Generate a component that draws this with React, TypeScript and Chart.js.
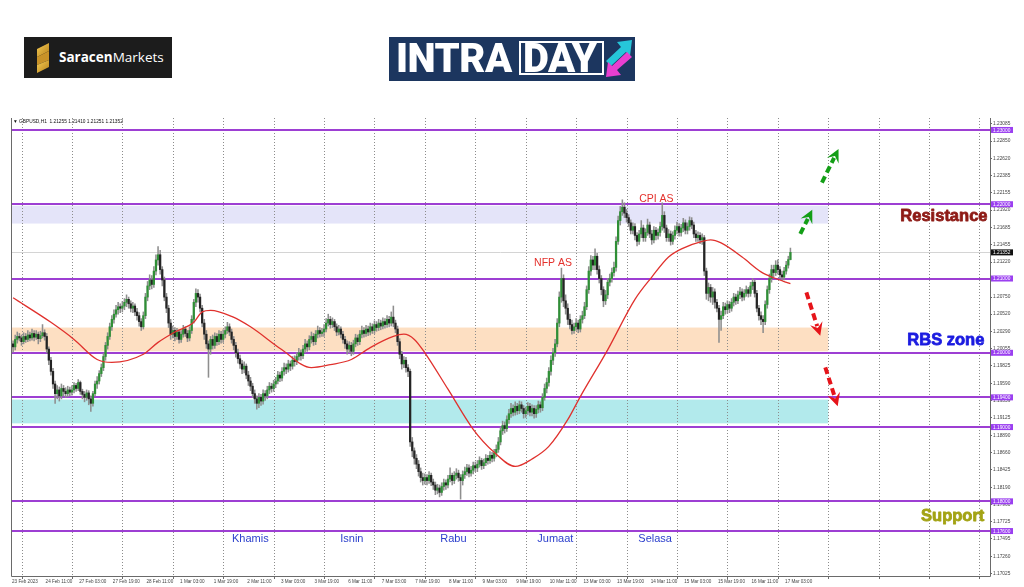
import React, { useEffect, useRef } from "react";
import { Chart, registerables } from "chart.js";
Chart.register(...registerables);

// ---- H1 candles, 23 Feb 2023 19:00 .. 17 Mar 2023 06:00 (one line per trading day) ----
const firstOpen = 1.2005;
const closes = [
  1.2012, 1.2008, 1.2018, 1.2022, 1.2020,
  1.2015, 1.2022, 1.2018, 1.2024, 1.2020, 1.2026, 1.2021, 1.2025, 1.2019, 1.2023, 1.2027, 1.2022, 1.2005, 1.1990, 1.1975, 1.1958, 1.1945, 1.1950, 1.1942, 1.1952, 1.1948, 1.1945, 1.1950, 1.1947,
  1.1950, 1.1956, 1.1952, 1.1960, 1.1948, 1.1944, 1.1940, 1.1946, 1.1938, 1.1932, 1.1945, 1.1958, 1.1962, 1.1972, 1.1980, 1.1995, 1.2010, 1.2022, 1.2035, 1.2045, 1.2052, 1.2058, 1.2062, 1.2060,
  1.2063, 1.2068, 1.2072, 1.2066, 1.2060, 1.2063, 1.2055, 1.2050, 1.2042, 1.2035, 1.2050, 1.2075, 1.2090, 1.2098, 1.2092, 1.2110, 1.2125, 1.2132, 1.2112, 1.2098, 1.2075, 1.2060, 1.2040, 1.2025,
  1.2030, 1.2022, 1.2028, 1.2018, 1.2025, 1.2032, 1.2026, 1.2020, 1.2030, 1.2045, 1.2068, 1.2080, 1.2075, 1.2060, 1.2040, 1.2025, 1.2012, 1.2005, 1.2018, 1.2010, 1.2022, 1.2015, 1.2025, 1.2018,
  1.2025, 1.2030, 1.2035, 1.2028, 1.2018, 1.2010, 1.2000, 1.1992, 1.1985, 1.1978, 1.1982, 1.1970, 1.1962, 1.1955, 1.1945, 1.1938, 1.1932, 1.1940, 1.1935, 1.1945, 1.1942, 1.1950, 1.1955, 1.1952,
  1.1958, 1.1962, 1.1970, 1.1966, 1.1975, 1.1980, 1.1978, 1.1985, 1.1982, 1.1990, 1.1988, 1.1995, 1.2000, 1.1996, 1.2005, 1.2012, 1.2008, 1.2018, 1.2022, 1.2015, 1.2025, 1.2030, 1.2026, 1.2028,
  1.2032, 1.2040, 1.2045, 1.2038, 1.2042, 1.2035, 1.2028, 1.2032, 1.2025, 1.2018, 1.2012, 1.2005, 1.2010, 1.2002, 1.2012, 1.2020, 1.2015, 1.2025, 1.2030, 1.2026, 1.2032, 1.2028, 1.2035, 1.2030,
  1.2038, 1.2034, 1.2040, 1.2036, 1.2042, 1.2038, 1.2045, 1.2040, 1.2048, 1.2040, 1.2032, 1.2015, 1.1998, 1.1985, 1.1990, 1.1980, 1.1975, 1.1880, 1.1868, 1.1858, 1.1850, 1.1840, 1.1832, 1.1828,
  1.1832, 1.1828, 1.1835, 1.1826, 1.1822, 1.1815, 1.1818, 1.1812, 1.1820, 1.1825, 1.1822, 1.1830, 1.1835, 1.1828, 1.1835, 1.1838, 1.1832, 1.1828, 1.1836, 1.1840, 1.1845, 1.1838, 1.1842, 1.1848,
  1.1845, 1.1850, 1.1855, 1.1848, 1.1852, 1.1858, 1.1855, 1.1862, 1.1858, 1.1865, 1.1870, 1.1880, 1.1895, 1.1902, 1.1898, 1.1910, 1.1918, 1.1925, 1.1920, 1.1928, 1.1922, 1.1930, 1.1925, 1.1918,
  1.1922, 1.1928, 1.1920, 1.1925, 1.1918, 1.1924, 1.1930, 1.1926, 1.1940, 1.1952, 1.1960, 1.1975, 1.1990, 1.2000, 1.2012, 1.2040, 1.2075, 1.2100, 1.2070, 1.2060, 1.2045, 1.2038, 1.2030, 1.2035,
  1.2040, 1.2032, 1.2045, 1.2050, 1.2062, 1.2085, 1.2110, 1.2125, 1.2118, 1.2130, 1.2112, 1.2100, 1.2085, 1.2070, 1.2078, 1.2095, 1.2100, 1.2108, 1.2115, 1.2150, 1.2178, 1.2190, 1.2196, 1.2188,
  1.2182, 1.2175, 1.2165, 1.2170, 1.2158, 1.2150, 1.2160, 1.2168, 1.2155, 1.2162, 1.2172, 1.2160, 1.2152, 1.2165, 1.2158, 1.2162, 1.2170, 1.2185, 1.2168, 1.2155, 1.2160, 1.2150, 1.2158, 1.2165,
  1.2170, 1.2162, 1.2168, 1.2175, 1.2165, 1.2170, 1.2178, 1.2172, 1.2160, 1.2155, 1.2158, 1.2152, 1.2155, 1.2110, 1.2080, 1.2088, 1.2075, 1.2082, 1.2068, 1.2060, 1.2045, 1.2050, 1.2062, 1.2058,
  1.2065, 1.2060, 1.2068, 1.2075, 1.2070, 1.2078, 1.2082, 1.2075, 1.2080, 1.2085, 1.2080, 1.2090, 1.2095, 1.2080, 1.2060, 1.2050, 1.2045, 1.2042, 1.2065, 1.2085, 1.2100, 1.2112, 1.2108, 1.2118,
  1.2112, 1.2105, 1.2102, 1.2110, 1.2118, 1.21255, 1.21352,
];
const highs = [
  1.2018, 1.2016, 1.2024, 1.2028, 1.2026,
  1.2024, 1.2027, 1.2026, 1.2030, 1.2028, 1.2032, 1.2030, 1.2030, 1.2028, 1.2029, 1.2038, 1.2031, 1.2026, 1.2008, 1.1994, 1.1979, 1.1962, 1.1956, 1.1954, 1.1958, 1.1956, 1.1953, 1.1955, 1.1954,
  1.1956, 1.1960, 1.1959, 1.1964, 1.1962, 1.1951, 1.1948, 1.1950, 1.1949, 1.1942, 1.1948, 1.1962, 1.1968, 1.1976, 1.1985, 1.1999, 1.2014, 1.2027, 1.2040, 1.2050, 1.2058, 1.2064, 1.2068, 1.2066,
  1.2069, 1.2073, 1.2078, 1.2075, 1.2070, 1.2068, 1.2066, 1.2060, 1.2054, 1.2046, 1.2055, 1.2080, 1.2096, 1.2105, 1.2104, 1.2116, 1.2132, 1.2143, 1.2138, 1.2116, 1.2102, 1.2080, 1.2064, 1.2045,
  1.2036, 1.2034, 1.2033, 1.2031, 1.2030, 1.2037, 1.2035, 1.2030, 1.2035, 1.2050, 1.2072, 1.2086, 1.2085, 1.2079, 1.2064, 1.2045, 1.2030, 1.2016, 1.2022, 1.2024, 1.2027, 1.2026, 1.2030, 1.2029,
  1.2031, 1.2035, 1.2041, 1.2039, 1.2032, 1.2022, 1.2014, 1.2005, 1.1997, 1.1990, 1.1988, 1.1985, 1.1975, 1.1967, 1.1959, 1.1950, 1.1942, 1.1945, 1.1944, 1.1950, 1.1949, 1.1955, 1.1960, 1.1959,
  1.1963, 1.1967, 1.1975, 1.1974, 1.1980, 1.1986, 1.1985, 1.1990, 1.1989, 1.1995, 1.1996, 1.2000, 1.2006, 1.2004, 1.2010, 1.2018, 1.2016, 1.2023, 1.2028, 1.2026, 1.2030, 1.2036, 1.2034, 1.2033,
  1.2038, 1.2046, 1.2052, 1.2049, 1.2047, 1.2045, 1.2039, 1.2037, 1.2035, 1.2029, 1.2022, 1.2016, 1.2015, 1.2014, 1.2017, 1.2025, 1.2024, 1.2030, 1.2036, 1.2034, 1.2037, 1.2036, 1.2040, 1.2039,
  1.2043, 1.2042, 1.2045, 1.2044, 1.2047, 1.2046, 1.2050, 1.2049, 1.2055, 1.2063, 1.2044, 1.2036, 1.2019, 1.2002, 1.1995, 1.1994, 1.1984, 1.1978, 1.1886, 1.1872, 1.1863, 1.1855, 1.1845, 1.1838,
  1.1837, 1.1836, 1.1840, 1.1838, 1.1830, 1.1826, 1.1823, 1.1822, 1.1825, 1.1830, 1.1829, 1.1835, 1.1845, 1.1838, 1.1840, 1.1844, 1.1842, 1.1836, 1.1841, 1.1846, 1.1850, 1.1849, 1.1847, 1.1853,
  1.1853, 1.1855, 1.1860, 1.1858, 1.1857, 1.1863, 1.1862, 1.1867, 1.1866, 1.1870, 1.1876, 1.1886, 1.1900, 1.1908, 1.1907, 1.1915, 1.1924, 1.1932, 1.1930, 1.1934, 1.1932, 1.1935, 1.1934, 1.1929,
  1.1927, 1.1933, 1.1932, 1.1930, 1.1929, 1.1929, 1.1935, 1.1934, 1.1945, 1.1958, 1.1966, 1.1980, 1.1996, 1.2006, 1.2018, 1.2046, 1.2082, 1.2114, 1.2105, 1.2078, 1.2066, 1.2052, 1.2044, 1.2040,
  1.2046, 1.2044, 1.2050, 1.2056, 1.2068, 1.2090, 1.2116, 1.2131, 1.2130, 1.2140, 1.2134, 1.2117, 1.2104, 1.2089, 1.2084, 1.2100, 1.2106, 1.2114, 1.2122, 1.2156, 1.2184, 1.2197, 1.2206, 1.2202,
  1.2193, 1.2186, 1.2179, 1.2175, 1.2174, 1.2162, 1.2165, 1.2178, 1.2172, 1.2167, 1.2180, 1.2176, 1.2165, 1.2170, 1.2169, 1.2167, 1.2176, 1.2202, 1.2190, 1.2172, 1.2166, 1.2164, 1.2163, 1.2171,
  1.2176, 1.2174, 1.2173, 1.2181, 1.2179, 1.2175, 1.2183, 1.2182, 1.2176, 1.2165, 1.2163, 1.2162, 1.2160, 1.2158, 1.2114, 1.2094, 1.2092, 1.2088, 1.2086, 1.2072, 1.2064, 1.2056, 1.2068, 1.2067,
  1.2070, 1.2069, 1.2073, 1.2080, 1.2079, 1.2083, 1.2088, 1.2086, 1.2085, 1.2090, 1.2088, 1.2095, 1.2100, 1.2098, 1.2084, 1.2064, 1.2055, 1.2050, 1.2070, 1.2090, 1.2106, 1.2118, 1.2118, 1.2124,
  1.2125, 1.2116, 1.2110, 1.2115, 1.2123, 1.2130, 1.2141,
];
const lows = [
  1.1998, 1.2001, 1.2004, 1.2013, 1.2016,
  1.2010, 1.2012, 1.2014, 1.2015, 1.2016, 1.2017, 1.2016, 1.2018, 1.2012, 1.2015, 1.2020, 1.2017, 1.2000, 1.1984, 1.1970, 1.1952, 1.1932, 1.1938, 1.1935, 1.1938, 1.1942, 1.1940, 1.1941, 1.1942,
  1.1943, 1.1946, 1.1948, 1.1949, 1.1944, 1.1938, 1.1934, 1.1936, 1.1930, 1.1921, 1.1928, 1.1942, 1.1952, 1.1958, 1.1968, 1.1976, 1.1990, 1.2005, 1.2018, 1.2030, 1.2040, 1.2048, 1.2052, 1.2054,
  1.2055, 1.2058, 1.2062, 1.2060, 1.2055, 1.2054, 1.2050, 1.2044, 1.2036, 1.2030, 1.2032, 1.2046, 1.2070, 1.2085, 1.2086, 1.2088, 1.2105, 1.2118, 1.2106, 1.2090, 1.2070, 1.2054, 1.2034, 1.2018,
  1.2020, 1.2016, 1.2018, 1.2013, 1.2014, 1.2021, 1.2022, 1.2015, 1.2016, 1.2026, 1.2040, 1.2062, 1.2068, 1.2055, 1.2035, 1.2018, 1.2006, 1.1967, 1.1998, 1.2005, 1.2006, 1.2010, 1.2011, 1.2013,
  1.2014, 1.2020, 1.2026, 1.2023, 1.2013, 1.2004, 1.1994, 1.1986, 1.1979, 1.1972, 1.1973, 1.1965, 1.1956, 1.1949, 1.1940, 1.1932, 1.1924, 1.1926, 1.1929, 1.1931, 1.1936, 1.1938, 1.1945, 1.1947,
  1.1948, 1.1953, 1.1958, 1.1961, 1.1962, 1.1970, 1.1972, 1.1974, 1.1976, 1.1978, 1.1982, 1.1984, 1.1990, 1.1990, 1.1992, 1.2000, 1.2002, 1.2004, 1.2013, 1.2010, 1.2011, 1.2020, 1.2021, 1.2022,
  1.2022, 1.2028, 1.2036, 1.2033, 1.2034, 1.2030, 1.2023, 1.2024, 1.2020, 1.2013, 1.2006, 1.1998, 1.2000, 1.1996, 1.1998, 1.2008, 1.2010, 1.2011, 1.2020, 1.2021, 1.2022, 1.2023, 1.2024, 1.2026,
  1.2026, 1.2029, 1.2030, 1.2031, 1.2032, 1.2033, 1.2034, 1.2035, 1.2036, 1.2035, 1.2027, 1.2010, 1.1992, 1.1978, 1.1980, 1.1974, 1.1968, 1.1874, 1.1860, 1.1850, 1.1844, 1.1834, 1.1826, 1.1822,
  1.1823, 1.1822, 1.1824, 1.1821, 1.1816, 1.1809, 1.1810, 1.1806, 1.1808, 1.1815, 1.1816, 1.1818, 1.1826, 1.1822, 1.1824, 1.1830, 1.1827, 1.1803, 1.1822, 1.1831, 1.1835, 1.1833, 1.1834, 1.1837,
  1.1840, 1.1840, 1.1846, 1.1843, 1.1844, 1.1848, 1.1850, 1.1851, 1.1853, 1.1854, 1.1860, 1.1866, 1.1876, 1.1890, 1.1892, 1.1894, 1.1905, 1.1913, 1.1915, 1.1916, 1.1917, 1.1918, 1.1920, 1.1912,
  1.1913, 1.1917, 1.1915, 1.1915, 1.1912, 1.1913, 1.1919, 1.1920, 1.1922, 1.1936, 1.1946, 1.1955, 1.1970, 1.1984, 1.1995, 1.2008, 1.2035, 1.2068, 1.2062, 1.2052, 1.2038, 1.2032, 1.2025, 1.2026,
  1.2030, 1.2027, 1.2028, 1.2040, 1.2046, 1.2058, 1.2080, 1.2104, 1.2112, 1.2112, 1.2106, 1.2094, 1.2078, 1.2062, 1.2065, 1.2073, 1.2090, 1.2095, 1.2103, 1.2110, 1.2146, 1.2172, 1.2185, 1.2182,
  1.2176, 1.2170, 1.2160, 1.2160, 1.2152, 1.2144, 1.2146, 1.2155, 1.2150, 1.2150, 1.2158, 1.2155, 1.2146, 1.2148, 1.2152, 1.2153, 1.2157, 1.2165, 1.2162, 1.2150, 1.2150, 1.2145, 1.2146, 1.2153,
  1.2160, 1.2157, 1.2157, 1.2163, 1.2160, 1.2160, 1.2165, 1.2167, 1.2155, 1.2150, 1.2150, 1.2147, 1.2146, 1.2104, 1.2072, 1.2070, 1.2068, 1.2065, 1.2060, 1.2055, 1.2014, 1.2030, 1.2046, 1.2052,
  1.2053, 1.2054, 1.2056, 1.2063, 1.2065, 1.2066, 1.2073, 1.2070, 1.2071, 1.2076, 1.2075, 1.2076, 1.2085, 1.2075, 1.2055, 1.2044, 1.2038, 1.2027, 1.2038, 1.2060, 1.2080, 1.2095, 1.2102, 1.2104,
  1.2106, 1.2100, 1.2097, 1.2098, 1.2106, 1.2114, 1.21251,
];

// ---- red moving average, read at selected bars ----
const maBars = [1, 19, 30, 41, 48, 63, 70, 78, 87, 91, 95, 105, 114, 129, 143, 152, 162, 171, 182, 187, 192, 197, 208, 220, 230, 240, 248, 256, 265, 271, 284, 297, 305, 313, 320, 329, 333, 338, 348, 357, 363, 371];
const maValues = [1.2074, 1.2041, 1.2018, 1.1991, 1.1987, 1.1998, 1.2014, 1.2028, 1.2041, 1.2055, 1.2057, 1.2049, 1.2035, 1.2004, 1.1980, 1.1984, 1.1991, 1.2007, 1.2022, 1.2025, 1.2018, 1.2000, 1.1951, 1.1897, 1.1866, 1.1847, 1.1857, 1.1874, 1.1910, 1.1941, 1.2004, 1.2072, 1.2102, 1.2129, 1.2141, 1.2150, 1.2152, 1.2148, 1.2129, 1.2109, 1.2101, 1.2093];

// ---- axes ----
const xLabels = ["23 Feb 2023", "24 Feb 11:00", "27 Feb 03:00", "27 Feb 19:00", "28 Feb 11:00", "1 Mar 03:00", "1 Mar 19:00", "2 Mar 11:00", "3 Mar 03:00", "3 Mar 19:00", "6 Mar 11:00", "7 Mar 03:00", "7 Mar 19:00", "8 Mar 11:00", "9 Mar 03:00", "9 Mar 19:00", "10 Mar 11:00", "13 Mar 03:00", "13 Mar 19:00", "14 Mar 11:00", "15 Mar 03:00", "15 Mar 19:00", "16 Mar 11:00", "17 Mar 03:00"];
const xLabelStep = 16;
const dayStartBar = 5;
const barsPerDay = 24;
const xMin = 0;
const xMax = 466;
const yMin = 1.16995;
const yMax = 1.23161;
const yTicks = [1.23085, 1.2285, 1.2262, 1.22385, 1.22155, 1.2192, 1.21685, 1.21455, 1.2122, 1.20985, 1.2075, 1.2052, 1.2029, 1.20055, 1.19825, 1.1959, 1.19359, 1.19125, 1.1889, 1.1866, 1.18425, 1.1819, 1.1796, 1.17725, 1.17495, 1.1726, 1.17025];

// ---- horizontal levels and zones ----
const levels = [1.23, 1.22, 1.21, 1.2, 1.194, 1.19, 1.18, 1.176];
const currentPrice = 1.21352;
const zoneLow = [1.2174, 1.2002, 1.1905];
const zoneHigh = [1.2198, 1.2034, 1.1937];
const zoneColors = ["#e4e4f9", "#fddfc2", "#b2eaec"];
const zoneStartBar = -10;
const zoneEndBar = 389;

// ---- annotations ----
const arrowFromBar = [375.7, 386.0, 378.6, 387.6];
const arrowFromPrice = [1.2160, 1.22292, 1.20813, 1.19805];
const arrowToBar = [381.4, 393.9, 385.2, 393.5];
const arrowToPrice = [1.21925, 1.22745, 1.20231, 1.19281];
const arrowColors = ["#139e16", "#139e16", "#e6141a", "#e6141a"];

const bigLabels = ["Resistance", "RBS zone", "Support"];
const bigLabelBar = [464.8, 463.3, 463.3];
const bigLabelPrice = [1.21831, 1.20164, 1.17798];
const bigLabelColors = ["#8e1b16", "#1b1be0", "#a3a314"];

const smallLabels = ["NFP AS", "CPI AS", "Khamis", "Isnin", "Rabu", "Jumaat", "Selasa"];
const smallLabelBar = [249, 299, 105.2, 156.7, 204.3, 250.5, 298.6];
const smallLabelPrice = [1.21212, 1.22073, 1.17495, 1.17495, 1.17495, 1.17495, 1.17495];
const smallLabelColors = ["#e4312c", "#e4312c", "#2b3fcc", "#2b3fcc", "#2b3fcc", "#2b3fcc", "#2b3fcc"];

const headerText = "\u25BC GBPUSD,H1  1.21255 1.21410 1.21251 1.21352";

const fmt5 = (v: number) => v.toFixed(5);

function drawArrow(ctx: CanvasRenderingContext2D, x0: number, y0: number, x1: number, y1: number, color: string) {
  const dx = x1 - x0, dy = y1 - y0;
  const len = Math.hypot(dx, dy);
  const ux = dx / len, uy = dy / len;
  const px = -uy, py = ux;
  const head = 11, hw = 6.5;
  const bx = x1 - ux * head, by = y1 - uy * head;
  ctx.save();
  ctx.strokeStyle = color;
  ctx.lineWidth = 4;
  ctx.lineCap = "butt";
  ctx.setLineDash([7, 4]);
  ctx.beginPath();
  ctx.moveTo(x0, y0);
  ctx.lineTo(bx + ux * 1, by + uy * 1);
  ctx.stroke();
  ctx.setLineDash([]);
  ctx.fillStyle = color;
  ctx.beginPath();
  ctx.moveTo(x1, y1);
  ctx.lineTo(bx + px * hw - ux * 2, by + py * hw - uy * 2);
  ctx.lineTo(bx + ux * 3, by + uy * 3);
  ctx.lineTo(bx - px * hw - ux * 2, by - py * hw - uy * 2);
  ctx.closePath();
  ctx.fill();
  ctx.restore();
}

const overlayPlugin = {
  id: "mt4overlay",
  beforeDatasetsDraw(chart: any) {
    const { ctx, chartArea: a, scales } = chart;
    const x = scales.x, y = scales.y;
    ctx.save();
    ctx.beginPath();
    ctx.rect(a.left, a.top, a.right - a.left, a.bottom - a.top);
    ctx.clip();
    for (let k = 0; k < zoneLow.length; k++) {
      const x0 = x.getPixelForValue(zoneStartBar);
      const x1 = x.getPixelForValue(zoneEndBar);
      const y0 = y.getPixelForValue(zoneHigh[k]);
      const y1 = y.getPixelForValue(zoneLow[k]);
      ctx.fillStyle = zoneColors[k];
      ctx.fillRect(x0, y0, x1 - x0, y1 - y0);
    }
    ctx.strokeStyle = "#8c8c8c";
    ctx.lineWidth = 1;
    ctx.setLineDash([1, 2]);
    for (let i = dayStartBar; i <= xMax; i += barsPerDay) {
      const px = Math.round(x.getPixelForValue(i)) + 0.5;
      ctx.beginPath();
      ctx.moveTo(px, a.top);
      ctx.lineTo(px, a.bottom);
      ctx.stroke();
    }
    ctx.setLineDash([]);
    const cy = Math.round(y.getPixelForValue(currentPrice)) + 0.5;
    ctx.strokeStyle = "#d4d4d4";
    ctx.beginPath();
    ctx.moveTo(a.left, cy);
    ctx.lineTo(a.right, cy);
    ctx.stroke();
    ctx.strokeStyle = "#9d3fd3";
    ctx.lineWidth = 2;
    for (const lv of levels) {
      const py = Math.round(y.getPixelForValue(lv));
      ctx.beginPath();
      ctx.moveTo(a.left, py);
      ctx.lineTo(a.right, py);
      ctx.stroke();
    }
    ctx.restore();
  },
  afterDatasetsDraw(chart: any) {
    const { ctx, chartArea: a, scales } = chart;
    const x = scales.x, y = scales.y;
    for (let k = 0; k < arrowFromBar.length; k++) {
      drawArrow(ctx, x.getPixelForValue(arrowFromBar[k]), y.getPixelForValue(arrowFromPrice[k]),
        x.getPixelForValue(arrowToBar[k]), y.getPixelForValue(arrowToPrice[k]), arrowColors[k]);
    }
    ctx.save();
    ctx.textBaseline = "middle";
    ctx.textAlign = "right";
    ctx.font = 'bold 16.5px "Liberation Sans", Arial, sans-serif';
    ctx.lineWidth = 0.8;
    ctx.lineJoin = "round";
    for (let k = 0; k < bigLabels.length; k++) {
      const px = x.getPixelForValue(bigLabelBar[k]);
      const py = y.getPixelForValue(bigLabelPrice[k]);
      ctx.fillStyle = bigLabelColors[k];
      ctx.strokeStyle = bigLabelColors[k];
      ctx.fillText(bigLabels[k], px, py);
      ctx.strokeText(bigLabels[k], px, py);
    }
    ctx.textAlign = "left";
    for (let k = 0; k < smallLabels.length; k++) {
      ctx.font = k < 2 ? '10.5px "Liberation Sans", Arial, sans-serif' : '11px "Liberation Sans", Arial, sans-serif';
      ctx.fillStyle = smallLabelColors[k];
      ctx.fillText(smallLabels[k], x.getPixelForValue(smallLabelBar[k]), y.getPixelForValue(smallLabelPrice[k]));
    }
    ctx.font = '4.8px "Liberation Sans", Arial, sans-serif';
    ctx.fillStyle = "#111";
    ctx.fillText(headerText, a.left + 2, a.top + 4);
    ctx.restore();
  },
  afterDraw(chart: any) {
    const { ctx, chartArea: a, scales } = chart;
    const x = scales.x, y = scales.y;
    ctx.save();
    ctx.strokeStyle = "#6a6a6a";
    ctx.lineWidth = 1;
    ctx.beginPath();
    ctx.moveTo(a.left + 0.5, a.top);
    ctx.lineTo(a.left + 0.5, a.bottom + 0.5);
    ctx.lineTo(a.right + 0.5, a.bottom + 0.5);
    ctx.lineTo(a.right + 0.5, a.top);
    ctx.stroke();
    for (let i = dayStartBar; i <= xMax; i += barsPerDay) {
      const px = Math.round(x.getPixelForValue(i)) + 0.5;
      ctx.beginPath();
      ctx.moveTo(px, a.bottom);
      ctx.lineTo(px, a.bottom + 3);
      ctx.stroke();
    }
    ctx.font = '4.6px "Liberation Sans", Arial, sans-serif';
    ctx.fillStyle = "#444";
    ctx.textAlign = "left";
    ctx.textBaseline = "middle";
    xLabels.forEach((lab, k) => {
      ctx.fillText(lab, x.getPixelForValue(k * xLabelStep) + 1, a.bottom + 5.5);
    });
    ctx.font = '4.8px "Liberation Sans", Arial, sans-serif';
    const drawBox = (v: number, bg: string) => {
      const py = y.getPixelForValue(v);
      ctx.fillStyle = bg;
      ctx.fillRect(a.right + 1, py - 3, 22, 6);
      ctx.fillStyle = "#ffffff";
      ctx.fillText(fmt5(v), a.right + 3, py + 0.3);
    };
    for (const lv of levels) drawBox(lv, "#9b3ff0");
    drawBox(currentPrice, "#111111");
    ctx.restore();
  },
};

export default function App() {
  const canvasRef = useRef<HTMLCanvasElement>(null);

  useEffect(() => {
    const opens = closes.map((c, i) => (i === 0 ? firstOpen : closes[i - 1]));
    const bodies = closes.map((c, i) => ({ x: i, y: [opens[i], c] }));
    const wicks = closes.map((c, i) => ({
      x: i,
      y: [Math.min(lows[i], opens[i], c), Math.max(highs[i], opens[i], c)],
    }));
    const bodyColors = closes.map((c, i) => (c >= opens[i] ? "#2f8f36" : "#242424"));
    const ma = maBars.map((b, k) => ({ x: b, y: maValues[k] }));

    const chart = new Chart(canvasRef.current as HTMLCanvasElement, {
      type: "bar",
      data: {
        datasets: [
          {
            type: "line",
            data: ma,
            borderColor: "#e0312d",
            borderWidth: 1.3,
            pointRadius: 0,
            cubicInterpolationMode: "monotone",
            order: 0,
          } as any,
          {
            type: "bar",
            data: bodies,
            backgroundColor: bodyColors,
            borderWidth: 0,
            barThickness: 1.6,
            grouped: false,
            minBarLength: 1,
            order: 1,
          } as any,
          {
            type: "bar",
            data: wicks,
            backgroundColor: "#8e8e8e",
            borderWidth: 0,
            barThickness: 0.9,
            grouped: false,
            order: 2,
          } as any,
        ],
      },
      options: {
        responsive: false,
        animation: false,
        devicePixelRatio: 1,
        events: [],
        layout: { padding: { left: 11, top: 118, right: 0, bottom: 0 } },
        plugins: { legend: { display: false }, tooltip: { enabled: false } },
        scales: {
          x: {
            type: "linear",
            min: xMin,
            max: xMax,
            offset: false,
            grid: { display: false },
            border: { display: false },
            afterBuildTicks: (axis: any) => {
              axis.ticks = xLabels.map((_, k) => ({ value: k * xLabelStep }));
            },
            afterFit: (axis: any) => {
              axis.height = 11;
            },
            ticks: { display: false },
          },
          y: {
            type: "linear",
            position: "right",
            min: yMin,
            max: yMax,
            grid: { drawOnChartArea: false, drawTicks: true, tickLength: 2, color: "#6a6a6a" },
            border: { display: false },
            afterBuildTicks: (axis: any) => {
              axis.ticks = yTicks.map((v) => ({ value: v }));
            },
            afterFit: (axis: any) => {
              axis.width = 34;
            },
            ticks: {
              autoSkip: false,
              padding: 1,
              color: "#444",
              font: { size: 4.8, family: '"Liberation Sans", Arial, sans-serif' },
              callback: (v: any) => fmt5(Number(v)),
            },
          },
        },
      },
      plugins: [overlayPlugin],
    } as any);

    return () => chart.destroy();
  }, []);

  return (
    <div style={{ position: "absolute", left: 0, top: 0, width: 1024, height: 587, background: "#fff", overflow: "hidden" }}>
      <canvas ref={canvasRef} width={1024} height={587} style={{ position: "absolute", left: 0, top: 0, width: 1024, height: 587 }} />
      {/* Saracen Markets logo */}
      <div style={{ position: "absolute", left: 24, top: 37, width: 148, height: 41, background: "#1c1c1c" }}>
        <svg width="18" height="30" viewBox="0 0 18 30" style={{ position: "absolute", left: 10, top: 6 }}>
          <defs>
            <linearGradient id="sg" x1="0" y1="0" x2="1" y2="1">
              <stop offset="0" stopColor="#f7cd55" />
              <stop offset="1" stopColor="#b5801a" />
            </linearGradient>
          </defs>
          <path d="M3 6 L15 0 L15 8 L3 14 Z" fill="url(#sg)" />
          <path d="M3 14 L15 8 L15 17 L3 22 Z" fill="#c89228" />
          <path d="M3 22 L15 17 L15 24 L3 30 Z" fill="url(#sg)" />
        </svg>
        <div style={{ position: "absolute", left: 35, top: 11, color: "#fff", fontFamily: '"Open Sans", sans-serif', fontSize: 13.5, lineHeight: "18px", whiteSpace: "nowrap" }}>
          <span style={{ fontWeight: 700 }}>Saracen</span>
          <span>Markets</span>
        </div>
      </div>
      {/* INTRADAY logo */}
      <div style={{ position: "absolute", left: 389, top: 37, width: 246, height: 44, background: "#1c365f" }}>
        <div style={{ position: "absolute", left: 7, top: 0, height: 44, color: "#fff", fontFamily: "Roboto, sans-serif", fontWeight: 900, fontSize: 40, lineHeight: "44px", letterSpacing: -0.5, whiteSpace: "nowrap" }}>
          INTRA
        </div>
        <div style={{ position: "absolute", left: 130, top: 4, width: 85, height: 34, border: "2.5px solid #fff", boxSizing: "border-box" }} />
        <div style={{ position: "absolute", left: 134, top: 0, height: 44, color: "#fff", fontFamily: "Roboto, sans-serif", fontWeight: 900, fontSize: 40, lineHeight: "43px", letterSpacing: -0.5, whiteSpace: "nowrap" }}>
          DAY
        </div>
        <svg width="30" height="40" viewBox="0 0 30 40" style={{ position: "absolute", left: 215, top: 2 }}>
          <polygon points="28,1 13,3 17,8 2,22 7,27 22,13 26,17" fill="#26c6d9" />
          <polygon points="2,38 17,36 13,31 28,18 23,13 8,27 4,23" fill="#e83fd0" />
        </svg>
      </div>
    </div>
  );
}
